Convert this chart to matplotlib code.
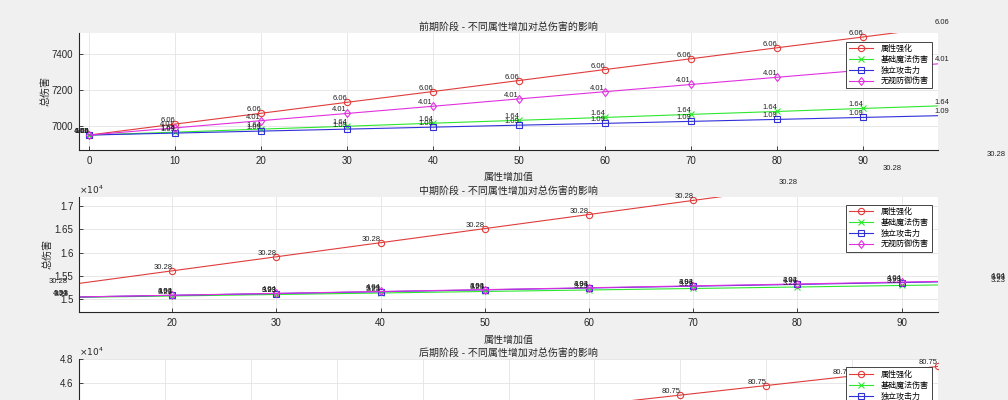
import matplotlib
matplotlib.use("Agg")
import matplotlib.pyplot as plt
from matplotlib.ticker import FuncFormatter

plt.rcParams['font.family'] = ['Liberation Sans', 'Noto Sans CJK SC', 'DejaVu Sans']

# attribute increase (x axis), same for all three stages
attr_add = [0, 10, 20, 30, 40, 50, 60, 70, 80, 90, 100]

series_names = ['属性强化', '基础魔法伤害', '独立攻击力', '无视防御伤害']

# early stage total damage
early_attr = [6950, 7011, 7071, 7132, 7192, 7253, 7314, 7374, 7435, 7495, 7556]
early_magic = [6950, 6966, 6983, 6999, 7016, 7032, 7048, 7065, 7081, 7098, 7114]
early_atk = [6950, 6961, 6972, 6983, 6994, 7005, 7015, 7026, 7037, 7048, 7059]
early_ignore = [6950, 6990, 7030, 7070, 7110, 7151, 7191, 7231, 7271, 7311, 7351]
early_gain = [6.06, 1.64, 1.09, 4.01]

# mid stage total damage
mid_attr = [15000, 15303, 15606, 15908, 16211, 16514, 16817, 17120, 17422, 17725, 18028]
mid_magic = [15000, 15032, 15065, 15097, 15129, 15162, 15194, 15226, 15258, 15291, 15323]
mid_atk = [15000, 15039, 15079, 15118, 15157, 15197, 15236, 15275, 15314, 15354, 15393]
mid_ignore = [15000, 15040, 15081, 15121, 15162, 15202, 15242, 15283, 15323, 15364, 15404]
mid_gain = [30.28, 3.23, 3.93, 4.04]

# late stage total damage
late_attr = [39300, 40108, 40915, 41723, 42530, 43338, 44145, 44953, 45760, 46568, 47375]
late_magic = [39300, 39398, 39496, 39594, 39692, 39790, 39888, 39986, 40084, 40182, 40280]
late_atk = [39300, 39425, 39549, 39674, 39798, 39923, 40048, 40172, 40297, 40421, 40546]
late_ignore = [39300, 39414, 39527, 39641, 39755, 39869, 39982, 40096, 40210, 40323, 40437]
late_gain = [80.75, 9.80, 12.46, 11.37]

colors = ['#e03c3c', '#2ee82e', '#3030d8', '#e030e0']
markers = ['o', 'x', 's', 'd']
dark = '#262626'

W, H = 1008, 400
fig = plt.figure(figsize=(W / 100, H / 100), dpi=100)
fig.patch.set_facecolor('#f0f0f0')


def make_axes(top_px, height_px):
    left, right = 79, 938
    return fig.add_axes([left / W, 1 - (top_px + height_px) / H,
                         (right - left) / W, height_px / H])


def draw_stage(ax, title, data, gains, xlim, ylim, yticks, xticks, sci,
               xlabel_y, ylabel_x):
    ax.set_xlim(*xlim)
    ax.set_ylim(*ylim)
    for vals, g, c, m, name in zip(data, gains, colors, markers, series_names):
        ax.plot(attr_add, vals, color=c, marker=m, markersize=4.5,
                markerfacecolor='none', markeredgewidth=0.8, linewidth=0.8,
                label=name)
        for xv, yv in zip(attr_add, vals):
            # skip labels whose anchor falls outside the figure
            px, py = ax.transData.transform((xv, yv))
            if px < 0 or py < 0:
                continue
            ax.text(xv, yv, '%.2f' % g, ha='right', va='bottom',
                    fontsize=5.5, color='#222222')
    ax.set_xticks(xticks)
    ax.set_yticks(yticks)
    if sci:
        ax.yaxis.set_major_formatter(FuncFormatter(lambda v, p: '%g' % (v / 1e4)))
        ax.text(0, 1.005, r'$\times10^{4}$', transform=ax.transAxes,
                ha='left', va='bottom', fontsize=6.5, color=dark)
    ax.set_facecolor('white')
    ax.grid(True, color='#e3e3e3', linewidth=0.6)
    ax.set_axisbelow(True)
    for s in ['top', 'right']:
        ax.spines[s].set_visible(False)
    for s in ['left', 'bottom']:
        ax.spines[s].set_color(dark)
        ax.spines[s].set_linewidth(0.8)
    ax.tick_params(direction='in', length=3, width=0.6, colors=dark,
                   labelsize=7, pad=4)
    ax.set_title(title, fontsize=7.2, color=dark, pad=2)
    ax.set_xlabel('属性增加值', fontsize=7.2, color=dark)
    ax.set_ylabel('总伤害', fontsize=7.2, color=dark)
    ax.xaxis.set_label_coords(0.5, xlabel_y)
    ax.yaxis.set_label_coords(ylabel_x, 0.5)
    leg = ax.legend(loc='upper right', fontsize=5.8, fancybox=False,
                    framealpha=1, edgecolor=dark, handlelength=3.0,
                    borderpad=0.35, labelspacing=0.35, handletextpad=0.9,
                    bbox_to_anchor=(1 - 6.5 / 859, 1 - 8.5 / 117),
                    borderaxespad=0)
    leg.get_frame().set_linewidth(0.6)


ax1 = make_axes(33, 117)
draw_stage(ax1, '前期阶段 - 不同属性增加对总伤害的影响',
           [early_attr, early_magic, early_atk, early_ignore], early_gain,
           (-1.16, 98.7), (6867, 7517), [7000, 7200, 7400],
           range(0, 100, 10), False, -0.19, -0.033)

ax2 = make_axes(196.7, 115.6)
draw_stage(ax2, '中期阶段 - 不同属性增加对总伤害的影响',
           [mid_attr, mid_magic, mid_atk, mid_ignore], mid_gain,
           (11.05, 93.5), (14714, 17200), [15000, 15500, 16000, 16500, 17000],
           range(20, 100, 10), True, -0.195, -0.031)

ax3 = make_axes(359, 116)
draw_stage(ax3, '后期阶段 - 不同属性增加对总伤害的影响',
           [late_attr, late_magic, late_atk, late_ignore], late_gain,
           (0, 100), (38210, 48000), [40000, 42000, 44000, 46000, 48000],
           range(0, 101, 10), True, -0.19, -0.033)

fig.savefig('out.png', dpi=100, facecolor=fig.get_facecolor())
